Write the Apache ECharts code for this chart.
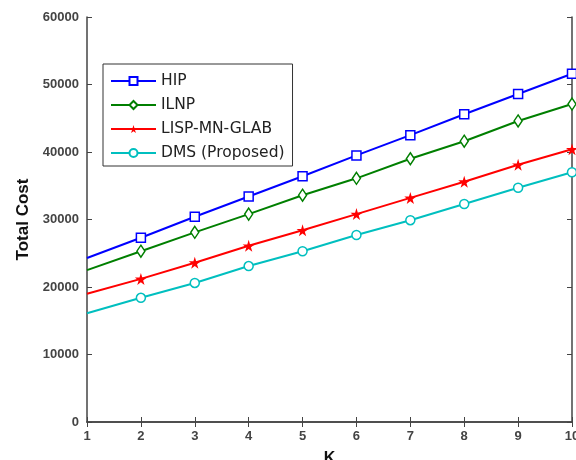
<!DOCTYPE html>
<html>
<head>
<meta charset="utf-8">
<script src="https://cdn.jsdelivr.net/npm/echarts@6/dist/echarts.min.js"></script>
<style>
  html, body { margin: 0; padding: 0; background: #fff; overflow: hidden; }
  #chart { width: 576px; height: 460px; }
</style>
</head>
<body>
<div id="chart"></div>
<script>
// K values on the x axis
const kValues = [1, 2, 3, 4, 5, 6, 7, 8, 9, 10];

// Total cost for each scheme
const hipCost  = [24300, 27300, 30400, 33400, 36400, 39500, 42500, 45600, 48600, 51600];
const ilnpCost = [22500, 25300, 28100, 30800, 33600, 36100, 39000, 41600, 44600, 47100];
const lispCost = [19000, 21200, 23600, 26100, 28400, 30800, 33200, 35600, 38100, 40400];
const dmsCost  = [16100, 18400, 20600, 23100, 25300, 27700, 29900, 32300, 34700, 37000];

const seriesNames = ['HIP', 'ILNP', 'LISP-MN-GLAB', 'DMS (Proposed)'];

const starPath = 'path://M50,0 L61,35 L98,35 L68,57 L79,91 L50,70 L21,91 L32,57 L2,35 L39,35 Z';

const axisColor = '#444';
const labelStyle = { color: '#444', fontWeight: 'bold', fontSize: 13, fontFamily: 'Liberation Sans, Arial, sans-serif' };

// Pair K with cost; the first point carries no marker
function toPoints(values) {
  return values.map((v, i) => i === 0
    ? { value: [kValues[i], v], symbol: 'none' }
    : { value: [kValues[i], v] });
}

function makeSeries(name, values, color, symbol, size, hollow) {
  return {
    name: name,
    type: 'line',
    data: toPoints(values),
    symbol: symbol,
    symbolSize: size,
    showAllSymbol: true,
    lineStyle: { color: color, width: 2 },
    itemStyle: hollow
      ? { color: '#fff', borderColor: color, borderWidth: 1.5 }
      : { color: color, borderColor: color, borderWidth: 0 },
    emphasis: { disabled: true },
    z: 3
  };
}

const chart = echarts.init(document.getElementById('chart'), null, { renderer: 'canvas' });

chart.setOption({
  animation: false,
  backgroundColor: '#fff',
  grid: { left: 87, right: 4, top: 17, bottom: 38, containLabel: false, outerBoundsMode: 'none' },
  legend: {
    orient: 'vertical',
    left: 103,
    top: 64,
    data: seriesNames,
    borderColor: '#333',
    borderWidth: 1,
    padding: [9, 8, 5, 7],
    itemGap: 8,
    itemWidth: 45,
    itemHeight: 10,
    textStyle: { fontSize: 15.5, lineHeight: 16, color: '#222', fontFamily: 'DejaVu Sans, Verdana, sans-serif' },
    backgroundColor: '#fff'
  },
  xAxis: [
    {
      type: 'value',
      min: 1, max: 10, interval: 1,
      name: 'K',
      nameLocation: 'middle',
      nameGap: 29,
      nameTextStyle: { color: '#111', fontWeight: 'bold', fontSize: 16, fontFamily: 'Liberation Sans, Arial, sans-serif' },
      axisLine: { show: true, lineStyle: { color: axisColor, width: 1.5 } },
      axisTick: { show: true, inside: true, length: 5, lineStyle: { color: axisColor } },
      axisLabel: Object.assign({ margin: 8 }, labelStyle),
      splitLine: { show: false }
    },
    {
      type: 'value',
      position: 'top',
      min: 1, max: 10, interval: 1,
      axisLine: { show: true, lineStyle: { color: axisColor, width: 1.5 } },
      axisTick: { show: true, inside: true, length: 5, lineStyle: { color: axisColor } },
      axisLabel: { show: false },
      splitLine: { show: false }
    }
  ],
  yAxis: [
    {
      type: 'value',
      min: 0, max: 60000, interval: 10000,
      name: 'Total Cost',
      nameLocation: 'middle',
      nameGap: 55,
      nameTextStyle: { color: '#111', fontWeight: 'bold', fontSize: 17, fontFamily: 'Liberation Sans, Arial, sans-serif' },
      axisLine: { show: true, lineStyle: { color: axisColor, width: 1.5 } },
      axisTick: { show: true, inside: true, length: 5, lineStyle: { color: axisColor } },
      axisLabel: Object.assign({ margin: 8, formatter: (v) => String(v) }, labelStyle),
      splitLine: { show: false }
    },
    {
      type: 'value',
      position: 'right',
      min: 0, max: 60000, interval: 10000,
      axisLine: { show: true, lineStyle: { color: axisColor, width: 1.5 } },
      axisTick: { show: true, inside: true, length: 5, lineStyle: { color: axisColor } },
      axisLabel: { show: false },
      splitLine: { show: false }
    }
  ],
  series: [
    makeSeries(seriesNames[0], hipCost,  '#0000ff', 'rect',    9,       true),
    makeSeries(seriesNames[1], ilnpCost, '#007f00', 'diamond', [8, 12], true),
    makeSeries(seriesNames[2], lispCost, '#ff0000', starPath,  12,      false),
    makeSeries(seriesNames[3], dmsCost,  '#00bfbf', 'circle',  9,       true)
  ]
});
</script>
</body>
</html>
